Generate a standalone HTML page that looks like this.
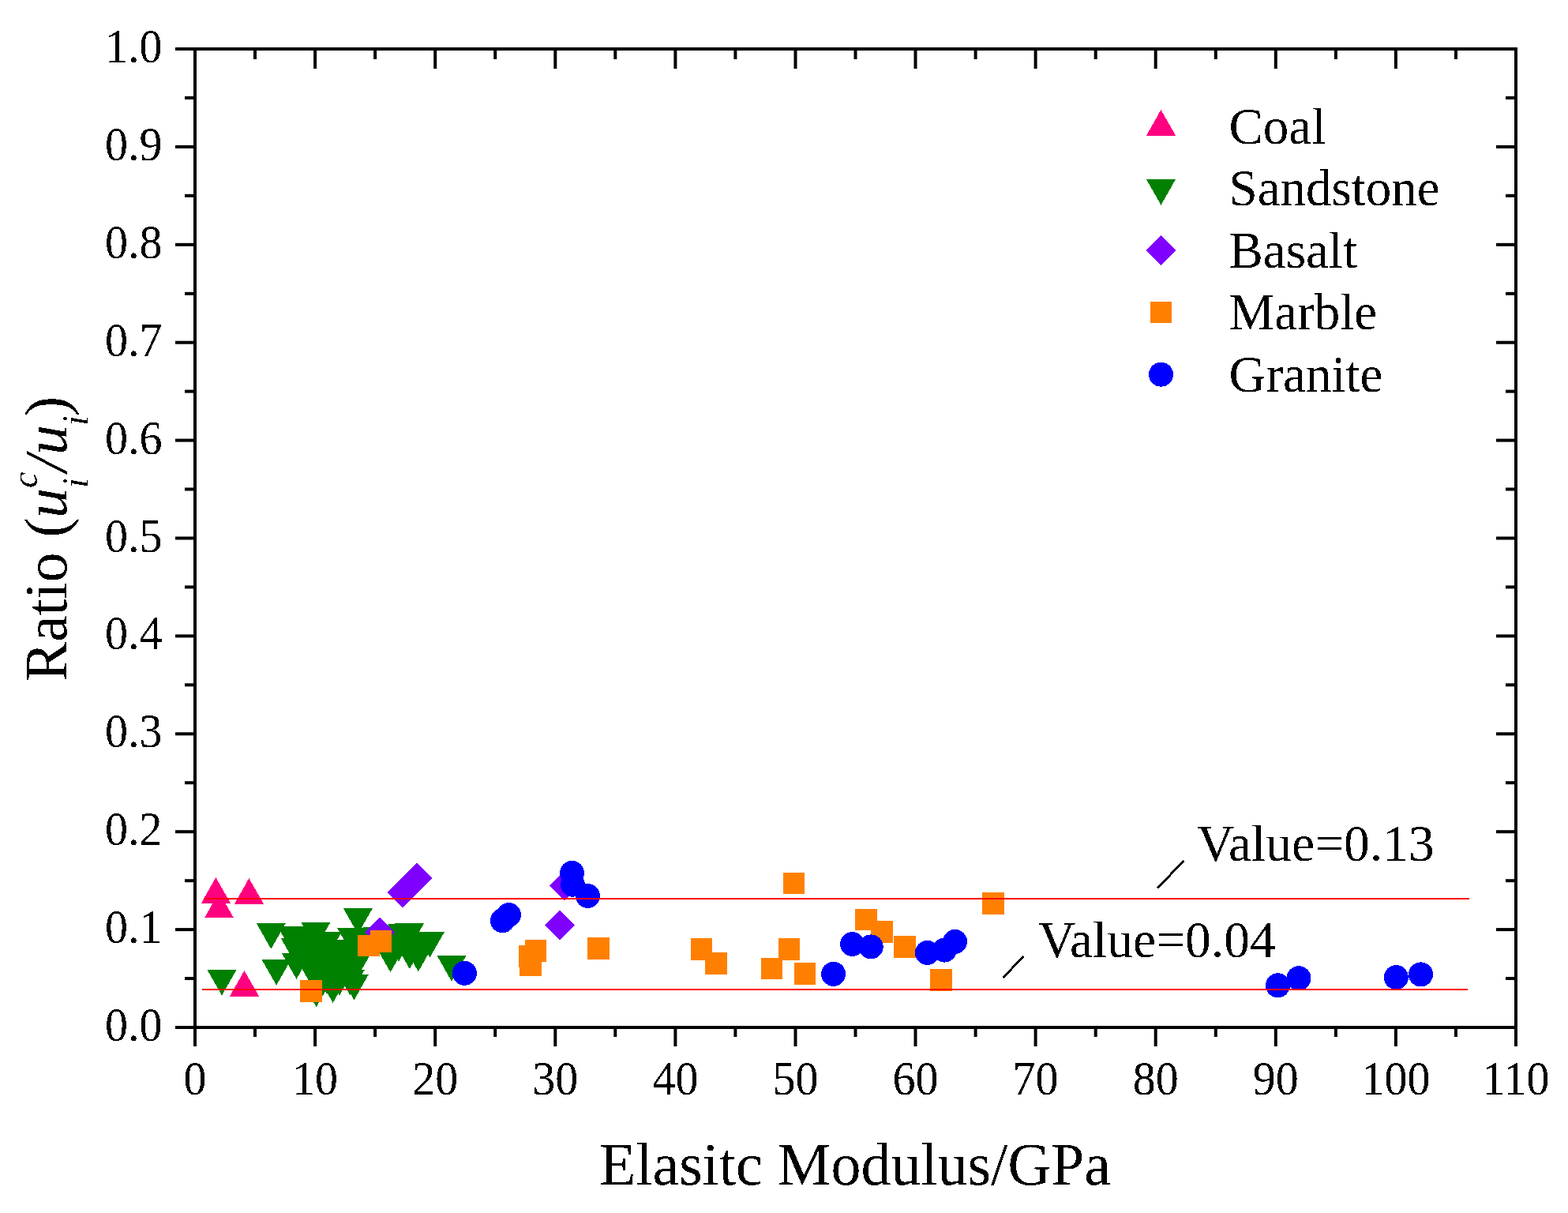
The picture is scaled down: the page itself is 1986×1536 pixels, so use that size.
<!DOCTYPE html>
<html><head><meta charset="utf-8"><title>Ratio vs Elastic Modulus</title>
<style>html,body{margin:0;padding:0;background:#fff;}svg{display:block;}</style>
</head><body>
<svg width="1986" height="1536" viewBox="0 0 1986 1536">
<rect width="1986" height="1536" fill="#fff"/>
<defs><filter id="bin" x="0" y="0" width="1" height="1" color-interpolation-filters="sRGB"><feComponentTransfer><feFuncA type="discrete" tableValues="0 1"/></feComponentTransfer></filter></defs>
<g shape-rendering="crispEdges">
<polygon points="254.9,1143.6 273.4,1111.1 291.9,1143.6" fill="#FF0080"/>
<polygon points="296.9,1144.7 315.4,1112.2 333.9,1144.7" fill="#FF0080"/>
<polygon points="259.0,1162.2 277.5,1129.7 296.0,1162.2" fill="#FF0080"/>
<polygon points="291.0,1261.5 309.5,1229.0 328.0,1261.5" fill="#FF0080"/>
<polygon points="262.5,1228.1 299.5,1228.1 281.0,1260.6" fill="#008000"/>
<polygon points="324.8,1169.2 361.8,1169.2 343.3,1201.7" fill="#008000"/>
<polygon points="381.4,1168.1 418.4,1168.1 399.9,1200.6" fill="#008000"/>
<polygon points="351.5,1173.0 388.5,1173.0 370.0,1205.5" fill="#008000"/>
<polygon points="355.7,1187.9 392.7,1187.9 374.2,1220.4" fill="#008000"/>
<polygon points="357.0,1207.3 394.0,1207.3 375.5,1239.8" fill="#008000"/>
<polygon points="331.6,1215.2 368.6,1215.2 350.1,1247.7" fill="#008000"/>
<polygon points="376.5,1215.0 413.5,1215.0 395.0,1247.5" fill="#008000"/>
<polygon points="391.5,1195.0 428.5,1195.0 410.0,1227.5" fill="#008000"/>
<polygon points="401.5,1205.0 438.5,1205.0 420.0,1237.5" fill="#008000"/>
<polygon points="391.1,1179.7 428.1,1179.7 409.6,1212.2" fill="#008000"/>
<polygon points="396.0,1179.7 433.0,1179.7 414.5,1212.2" fill="#008000"/>
<polygon points="406.5,1189.8 443.5,1189.8 425.0,1222.3" fill="#008000"/>
<polygon points="443.5,1176.0 480.5,1176.0 462.0,1208.5" fill="#008000"/>
<polygon points="427.1,1175.1 464.1,1175.1 445.6,1207.6" fill="#008000"/>
<polygon points="434.9,1150.2 471.9,1150.2 453.4,1182.7" fill="#008000"/>
<polygon points="459.9,1173.9 496.9,1173.9 478.4,1206.4" fill="#008000"/>
<polygon points="421.5,1195.0 458.5,1195.0 440.0,1227.5" fill="#008000"/>
<polygon points="406.5,1220.0 443.5,1220.0 425.0,1252.5" fill="#008000"/>
<polygon points="424.9,1228.0 461.9,1228.0 443.4,1260.5" fill="#008000"/>
<polygon points="437.5,1199.0 474.5,1199.0 456.0,1231.5" fill="#008000"/>
<polygon points="382.2,1242.7 419.2,1242.7 400.7,1275.2" fill="#008000"/>
<polygon points="403.1,1237.4 440.1,1237.4 421.6,1269.9" fill="#008000"/>
<polygon points="430.0,1233.8 467.0,1233.8 448.5,1266.3" fill="#008000"/>
<polygon points="491.0,1170.1 528.0,1170.1 509.5,1202.6" fill="#008000"/>
<polygon points="500.1,1169.2 537.1,1169.2 518.6,1201.7" fill="#008000"/>
<polygon points="526.0,1180.0 563.0,1180.0 544.5,1212.5" fill="#008000"/>
<polygon points="476.0,1198.7 513.0,1198.7 494.5,1231.2" fill="#008000"/>
<polygon points="500.4,1194.6 537.4,1194.6 518.9,1227.1" fill="#008000"/>
<polygon points="511.3,1197.8 548.3,1197.8 529.8,1230.3" fill="#008000"/>
<polygon points="553.5,1210.2 590.5,1210.2 572.0,1242.7" fill="#008000"/>
<polygon points="368.5,1176.0 405.5,1176.0 387.0,1208.5" fill="#008000"/>
<polygon points="393.5,1180.0 430.5,1180.0 412.0,1212.5" fill="#008000"/>
<polygon points="371.5,1192.0 408.5,1192.0 390.0,1224.5" fill="#008000"/>
<polygon points="379.5,1200.0 416.5,1200.0 398.0,1232.5" fill="#008000"/>
<polygon points="389.5,1215.0 426.5,1215.0 408.0,1247.5" fill="#008000"/>
<polygon points="413.5,1205.0 450.5,1205.0 432.0,1237.5" fill="#008000"/>
<polygon points="428.5,1208.0 465.5,1208.0 447.0,1240.5" fill="#008000"/>
<polygon points="507.5,1180.0 544.5,1180.0 526.0,1212.5" fill="#008000"/>
<polygon points="411.5,1195.0 448.5,1195.0 430.0,1227.5" fill="#008000"/>
<polygon points="396.5,1205.0 433.5,1205.0 415.0,1237.5" fill="#008000"/>
<polygon points="421.5,1200.0 458.5,1200.0 440.0,1232.5" fill="#008000"/>
<polygon points="486.5,1185.0 523.5,1185.0 505.0,1217.5" fill="#008000"/>
<polygon points="478.5,1190.0 515.5,1190.0 497.0,1222.5" fill="#008000"/>
<polygon points="501.5,1185.0 538.5,1185.0 520.0,1217.5" fill="#008000"/>
<polygon points="478.5,1178.0 515.5,1178.0 497.0,1210.5" fill="#008000"/>
<polygon points="381.5,1225.0 418.5,1225.0 400.0,1257.5" fill="#008000"/>
<polygon points="395.5,1226.0 432.5,1226.0 414.0,1258.5" fill="#008000"/>
<polygon points="411.5,1228.0 448.5,1228.0 430.0,1260.5" fill="#008000"/>
<polygon points="481.0,1161.3 500.3,1180.6 481.0,1199.9 461.7,1180.6" fill="#8000FF"/>
<polygon points="509.9,1111.1 529.2,1130.4 509.9,1149.7 490.6,1130.4" fill="#8000FF"/>
<polygon points="528.0,1092.9 547.3,1112.2 528.0,1131.5 508.7,1112.2" fill="#8000FF"/>
<polygon points="708.9,1152.2 728.2,1171.5 708.9,1190.8 689.6,1171.5" fill="#8000FF"/>
<polygon points="715.1,1102.2 734.4,1121.5 715.1,1140.8 695.8,1121.5" fill="#8000FF"/>
<rect x="380.1" y="1241.2" width="27.5" height="27.5" fill="#FF8000"/>
<rect x="453.2" y="1183.5" width="27.5" height="27.5" fill="#FF8000"/>
<rect x="468.6" y="1178.2" width="27.5" height="27.5" fill="#FF8000"/>
<rect x="664.8" y="1190.0" width="27.5" height="27.5" fill="#FF8000"/>
<rect x="657.1" y="1197.3" width="27.5" height="27.5" fill="#FF8000"/>
<rect x="658.1" y="1208.0" width="27.5" height="27.5" fill="#FF8000"/>
<rect x="744.2" y="1187.2" width="27.5" height="27.5" fill="#FF8000"/>
<rect x="874.8" y="1188.2" width="27.5" height="27.5" fill="#FF8000"/>
<rect x="893.2" y="1206.2" width="27.5" height="27.5" fill="#FF8000"/>
<rect x="963.6" y="1212.8" width="27.5" height="27.5" fill="#FF8000"/>
<rect x="985.8" y="1188.2" width="27.5" height="27.5" fill="#FF8000"/>
<rect x="991.8" y="1104.8" width="27.5" height="27.5" fill="#FF8000"/>
<rect x="1005.8" y="1219.2" width="27.5" height="27.5" fill="#FF8000"/>
<rect x="1083.2" y="1150.8" width="27.5" height="27.5" fill="#FF8000"/>
<rect x="1103.2" y="1166.2" width="27.5" height="27.5" fill="#FF8000"/>
<rect x="1132.2" y="1185.0" width="27.5" height="27.5" fill="#FF8000"/>
<rect x="1178.2" y="1227.2" width="27.5" height="27.5" fill="#FF8000"/>
<rect x="1244.2" y="1130.0" width="27.5" height="27.5" fill="#FF8000"/>
</g>
<g shape-rendering="crispEdges">
<circle cx="588.4" cy="1232.3" r="15.5" fill="#0000FF"/>
<circle cx="636.4" cy="1165.8" r="15.5" fill="#0000FF"/>
<circle cx="644.4" cy="1158.5" r="15.5" fill="#0000FF"/>
<circle cx="724.5" cy="1105.4" r="15.5" fill="#0000FF"/>
<circle cx="725.4" cy="1120.2" r="15.5" fill="#0000FF"/>
<circle cx="744.4" cy="1134.5" r="15.5" fill="#0000FF"/>
<circle cx="1055.6" cy="1233.3" r="15.5" fill="#0000FF"/>
<circle cx="1079.5" cy="1195.5" r="15.5" fill="#0000FF"/>
<circle cx="1103.2" cy="1198.9" r="15.5" fill="#0000FF"/>
<circle cx="1174.4" cy="1206.4" r="15.5" fill="#0000FF"/>
<circle cx="1196.3" cy="1203.1" r="15.5" fill="#0000FF"/>
<circle cx="1209.6" cy="1192.4" r="15.5" fill="#0000FF"/>
<circle cx="1618.5" cy="1247.8" r="15.5" fill="#0000FF"/>
<circle cx="1645.0" cy="1238.7" r="15.5" fill="#0000FF"/>
<circle cx="1768.3" cy="1237.6" r="15.5" fill="#0000FF"/>
<circle cx="1799.5" cy="1233.9" r="15.5" fill="#0000FF"/>
</g>
<rect x="259" y="1137" width="1602" height="2" fill="#FF0000"/>
<rect x="256" y="1252" width="1603" height="2" fill="#FF0000"/>
<g fill="#000">
<rect x="245" y="60" width="4" height="1243"/>
<rect x="1918" y="60" width="4" height="1243"/>
<rect x="245" y="60" width="1677" height="4"/>
<rect x="222" y="1299" width="1700" height="4"/>
<rect x="222" y="1299.0" width="23" height="4"/>
<rect x="1895" y="1299.0" width="23" height="4"/>
<rect x="234" y="1237.0" width="11" height="4"/>
<rect x="1907" y="1237.0" width="11" height="4"/>
<rect x="222" y="1175.1" width="23" height="4"/>
<rect x="1895" y="1175.1" width="23" height="4"/>
<rect x="234" y="1113.2" width="11" height="4"/>
<rect x="1907" y="1113.2" width="11" height="4"/>
<rect x="222" y="1051.2" width="23" height="4"/>
<rect x="1895" y="1051.2" width="23" height="4"/>
<rect x="234" y="989.2" width="11" height="4"/>
<rect x="1907" y="989.2" width="11" height="4"/>
<rect x="222" y="927.3" width="23" height="4"/>
<rect x="1895" y="927.3" width="23" height="4"/>
<rect x="234" y="865.3" width="11" height="4"/>
<rect x="1907" y="865.3" width="11" height="4"/>
<rect x="222" y="803.4" width="23" height="4"/>
<rect x="1895" y="803.4" width="23" height="4"/>
<rect x="234" y="741.4" width="11" height="4"/>
<rect x="1907" y="741.4" width="11" height="4"/>
<rect x="222" y="679.5" width="23" height="4"/>
<rect x="1895" y="679.5" width="23" height="4"/>
<rect x="234" y="617.5" width="11" height="4"/>
<rect x="1907" y="617.5" width="11" height="4"/>
<rect x="222" y="555.6" width="23" height="4"/>
<rect x="1895" y="555.6" width="23" height="4"/>
<rect x="234" y="493.6" width="11" height="4"/>
<rect x="1907" y="493.6" width="11" height="4"/>
<rect x="222" y="431.7" width="23" height="4"/>
<rect x="1895" y="431.7" width="23" height="4"/>
<rect x="234" y="369.8" width="11" height="4"/>
<rect x="1907" y="369.8" width="11" height="4"/>
<rect x="222" y="307.8" width="23" height="4"/>
<rect x="1895" y="307.8" width="23" height="4"/>
<rect x="234" y="245.8" width="11" height="4"/>
<rect x="1907" y="245.8" width="11" height="4"/>
<rect x="222" y="183.9" width="23" height="4"/>
<rect x="1895" y="183.9" width="23" height="4"/>
<rect x="234" y="121.9" width="11" height="4"/>
<rect x="1907" y="121.9" width="11" height="4"/>
<rect x="222" y="60.0" width="23" height="4"/>
<rect x="1895" y="60.0" width="23" height="4"/>
<rect x="245.0" y="1303" width="4" height="22"/>
<rect x="245.0" y="64" width="4" height="23"/>
<rect x="321.0" y="1303" width="4" height="10"/>
<rect x="321.0" y="64" width="4" height="11"/>
<rect x="397.1" y="1303" width="4" height="22"/>
<rect x="397.1" y="64" width="4" height="23"/>
<rect x="473.1" y="1303" width="4" height="10"/>
<rect x="473.1" y="64" width="4" height="11"/>
<rect x="549.2" y="1303" width="4" height="22"/>
<rect x="549.2" y="64" width="4" height="23"/>
<rect x="625.2" y="1303" width="4" height="10"/>
<rect x="625.2" y="64" width="4" height="11"/>
<rect x="701.3" y="1303" width="4" height="22"/>
<rect x="701.3" y="64" width="4" height="23"/>
<rect x="777.3" y="1303" width="4" height="10"/>
<rect x="777.3" y="64" width="4" height="11"/>
<rect x="853.4" y="1303" width="4" height="22"/>
<rect x="853.4" y="64" width="4" height="23"/>
<rect x="929.4" y="1303" width="4" height="10"/>
<rect x="929.4" y="64" width="4" height="11"/>
<rect x="1005.5" y="1303" width="4" height="22"/>
<rect x="1005.5" y="64" width="4" height="23"/>
<rect x="1081.5" y="1303" width="4" height="10"/>
<rect x="1081.5" y="64" width="4" height="11"/>
<rect x="1157.5" y="1303" width="4" height="22"/>
<rect x="1157.5" y="64" width="4" height="23"/>
<rect x="1233.6" y="1303" width="4" height="10"/>
<rect x="1233.6" y="64" width="4" height="11"/>
<rect x="1309.6" y="1303" width="4" height="22"/>
<rect x="1309.6" y="64" width="4" height="23"/>
<rect x="1385.7" y="1303" width="4" height="10"/>
<rect x="1385.7" y="64" width="4" height="11"/>
<rect x="1461.7" y="1303" width="4" height="22"/>
<rect x="1461.7" y="64" width="4" height="23"/>
<rect x="1537.8" y="1303" width="4" height="10"/>
<rect x="1537.8" y="64" width="4" height="11"/>
<rect x="1613.8" y="1303" width="4" height="22"/>
<rect x="1613.8" y="64" width="4" height="23"/>
<rect x="1689.9" y="1303" width="4" height="10"/>
<rect x="1689.9" y="64" width="4" height="11"/>
<rect x="1765.9" y="1303" width="4" height="22"/>
<rect x="1765.9" y="64" width="4" height="23"/>
<rect x="1842.0" y="1303" width="4" height="10"/>
<rect x="1842.0" y="64" width="4" height="11"/>
<rect x="1918.0" y="1303" width="4" height="22"/>
<rect x="1918.0" y="64" width="4" height="23"/>
</g>
<g filter="url(#bin)">
<g font-family="Liberation Serif, Times New Roman, serif" font-size="58" fill="#000">
<text transform="translate(205.5,1318.0) scale(1,1.05)" text-anchor="end">0.0</text>
<text transform="translate(205.5,1194.1) scale(1,1.05)" text-anchor="end">0.1</text>
<text transform="translate(205.5,1070.2) scale(1,1.05)" text-anchor="end">0.2</text>
<text transform="translate(205.5,946.3) scale(1,1.05)" text-anchor="end">0.3</text>
<text transform="translate(205.5,822.4) scale(1,1.05)" text-anchor="end">0.4</text>
<text transform="translate(205.5,698.5) scale(1,1.05)" text-anchor="end">0.5</text>
<text transform="translate(205.5,574.6) scale(1,1.05)" text-anchor="end">0.6</text>
<text transform="translate(205.5,450.7) scale(1,1.05)" text-anchor="end">0.7</text>
<text transform="translate(205.5,326.8) scale(1,1.05)" text-anchor="end">0.8</text>
<text transform="translate(205.5,202.9) scale(1,1.05)" text-anchor="end">0.9</text>
<text transform="translate(205.5,79.0) scale(1,1.05)" text-anchor="end">1.0</text>
<text transform="translate(247.0,1386) scale(1,1.05)" text-anchor="middle">0</text>
<text transform="translate(399.1,1386) scale(1,1.05)" text-anchor="middle">10</text>
<text transform="translate(551.2,1386) scale(1,1.05)" text-anchor="middle">20</text>
<text transform="translate(703.3,1386) scale(1,1.05)" text-anchor="middle">30</text>
<text transform="translate(855.4,1386) scale(1,1.05)" text-anchor="middle">40</text>
<text transform="translate(1007.5,1386) scale(1,1.05)" text-anchor="middle">50</text>
<text transform="translate(1159.5,1386) scale(1,1.05)" text-anchor="middle">60</text>
<text transform="translate(1311.6,1386) scale(1,1.05)" text-anchor="middle">70</text>
<text transform="translate(1463.7,1386) scale(1,1.05)" text-anchor="middle">80</text>
<text transform="translate(1615.8,1386) scale(1,1.05)" text-anchor="middle">90</text>
<text transform="translate(1767.9,1386) scale(1,1.05)" text-anchor="middle">100</text>
<text transform="translate(1920.0,1386) scale(1,1.05)" text-anchor="middle">110</text>
</g>
<text font-family="Liberation Serif, Times New Roman, serif" font-size="76" x="759" y="1499.5">Elasitc Modulus/GPa</text>
<text font-family="Liberation Serif, Times New Roman, serif" font-size="75.5" transform="translate(84,863) rotate(-90)"><tspan x="0" y="0">Ratio (</tspan><tspan x="207" y="0" font-style="italic" font-size="76">u</tspan><tspan x="244.9" y="-37.3" font-style="italic" font-size="46">c</tspan><tspan x="244.9" y="27" font-style="italic" font-size="46">i</tspan><tspan x="265.3" y="0" font-style="italic" font-size="76">/</tspan><tspan x="286.9" y="0" font-style="italic" font-size="76">u</tspan><tspan x="323.9" y="27" font-style="italic" font-size="46">i</tspan><tspan x="336" y="0">)</tspan></text>
</g>
<g shape-rendering="crispEdges">
<polygon points="1452.0,171.5 1470.5,139.0 1489.0,171.5" fill="#FF0080"/>
<polygon points="1452.0,227.1 1489.0,227.1 1470.5,259.6" fill="#008000"/>
<polygon points="1470.5,297.9 1489.8,317.2 1470.5,336.5 1451.2,317.2" fill="#8000FF"/>
<rect x="1456.8" y="381.8" width="27.5" height="27.5" fill="#FF8000"/>
<circle cx="1470.5" cy="474.2" r="15.5" fill="#0000FF"/>
</g>
<g filter="url(#bin)" font-family="Liberation Serif, Times New Roman, serif" font-size="65" fill="#000">
<text x="1556.5" y="181.7">Coal</text>
<text x="1556.5" y="260.2">Sandstone</text>
<text x="1556.5" y="338.7">Basalt</text>
<text x="1556.5" y="417.2">Marble</text>
<text x="1556.5" y="495.7">Granite</text>
</g>
<g filter="url(#bin)" font-family="Liberation Serif, Times New Roman, serif" font-size="65.5" fill="#000">
<text x="1516" y="1089.7">Value=0.13</text>
<text x="1315" y="1212.2">Value=0.04</text>
</g>
<g stroke="#000" stroke-width="2.8" stroke-linecap="butt" shape-rendering="crispEdges">
<line x1="1466" y1="1124.8" x2="1499.2" y2="1090"/>
<line x1="1270.3" y1="1238.2" x2="1296.3" y2="1211.1"/>
</g>
</svg>
</body></html>
